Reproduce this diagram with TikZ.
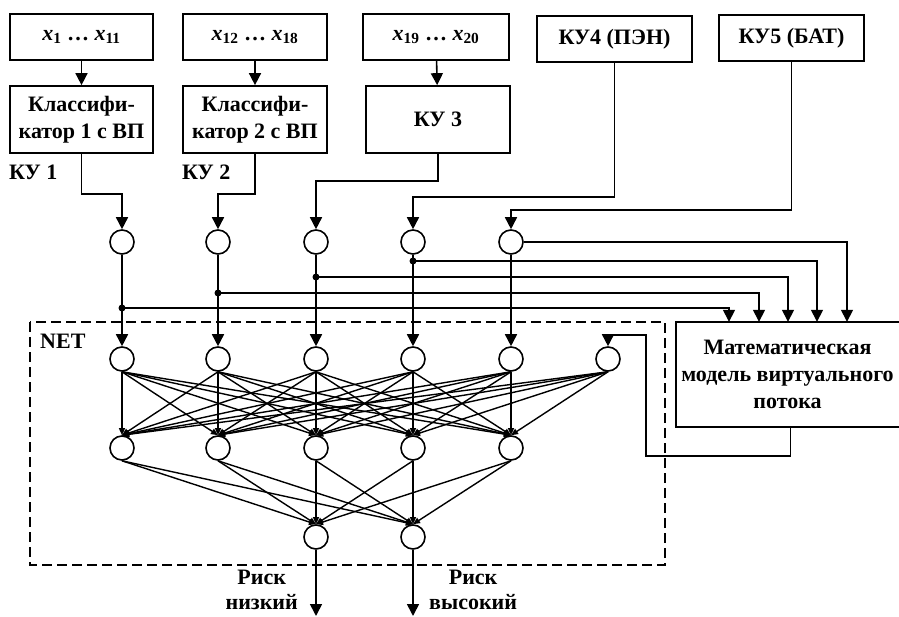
\documentclass[tikz,border=0pt]{standalone}
\usepackage{fontspec}
\setmainfont{Liberation Serif}
\usetikzlibrary{arrows.meta}

\begin{document}
\begin{tikzpicture}[
  x=1pt,
  y=-1pt,
  every node/.style={font=\fontsize{22}{27}\selectfont\bfseries},
  box/.style={draw, line width=1.7pt, align=center, inner sep=0pt,
              minimum height=46pt},
  clsbox/.style={box, minimum width=143pt, minimum height=67pt},
  neuron/.style={circle, draw, line width=1.6pt, inner sep=0pt,
                 minimum size=24pt},
  dot/.style={circle, fill, inner sep=0pt, minimum size=7pt},
  wire/.style={line width=1.6pt},
  feed/.style={wire, -{Triangle[length=12pt,width=12pt]}},
  link/.style={line width=1.4pt, -{Triangle[length=7pt,width=6pt]}},
  netbox/.style={line width=1.6pt, dash pattern=on 10pt off 5pt}
]
  \useasboundingbox (0,0) rectangle (899,617);

  % ---- input groups and control units ----
  \node[box, minimum width=143pt] (src1) at (81.5,37)
    {\textit{x}\textsubscript{1} … \textit{x}\textsubscript{11}};
  \node[box, minimum width=144pt] (src2) at (255,37)
    {\textit{x}\textsubscript{12} … \textit{x}\textsubscript{18}};
  \node[box, minimum width=146pt] (src3) at (436,37)
    {\textit{x}\textsubscript{19} … \textit{x}\textsubscript{20}};
  \node[box, minimum width=155pt] (src4) at (614.5,39) {КУ4 (ПЭН)};
  \node[box, minimum width=145pt] (src5) at (791.5,38) {КУ5 (БАТ)};

  \node[clsbox] (cls1) at (81.5,119.5) {Классифи-\\катор 1 с ВП};
  \node[clsbox, minimum width=144pt] (cls2) at (255,119.5) {Классифи-\\катор 2 с ВП};
  \node[clsbox, minimum width=144pt] (cls3) at (438,119.5) {КУ 3};
  \node[anchor=west, inner sep=0pt] (ku1) at (9,172) {КУ 1};
  \node[anchor=west, inner sep=0pt] (ku2) at (182,172) {КУ 2};

  \draw[feed] (src1) -- (cls1);
  \draw[feed] (src2) -- (cls2);
  \draw[feed] (src3) -- (cls3);

  % ---- gates ----
  \foreach \i/\x in {1/122,2/218,3/316,4/413,5/511}
    \node[neuron] (g\i) at (\x,242) {};

  \draw[feed] (cls1.south) -- ++(0,40) -| (g1.north);
  \draw[feed] (cls2.south) -- ++(0,40) -| (g2.north);
  \draw[feed] (cls3.south) -- ++(0,27) -| (g3.north);
  \draw[feed] (src4.south) -- ++(0,134) -| (g4.north);
  \draw[feed] (src5.south) -- ++(0,148) -| (g5.north);

  % ---- mathematical model ----
  \node[align=center, inner sep=0pt, minimum width=223pt, minimum height=105pt]
    (model) at (787.5,374.5)
    {Математическая\\модель виртуального\\потока};
  \draw[wire] (model.north east) -- (model.north west)
    -- (model.south west) -- (model.south east);

  % ---- branches into the model ----
  \foreach \i/\y/\dx in {1/308/-58.5,2/293/-28.5,3/277/0.5,4/261/29.5}{
    \node[dot] (j\i) at (g\i |- 0,\y) {};
    \draw[feed] (j\i.center) -| ([xshift=\dx pt]model.north);
  }
  \draw[feed] (g5.east) -| ([xshift=59.5pt]model.north);

  % ---- network ----
  \draw[netbox] (30,322) rectangle (665,565);
  \node[anchor=west, inner sep=0pt] (netlbl) at (40,341) {NET};

  \foreach \i/\x in {1/122,2/218,3/316,4/413,5/511,6/608}
    \node[neuron] (u\i) at (\x,359) {};
  \foreach \i/\x in {1/122,2/218,3/316,4/413,5/511}
    \node[neuron] (h\i) at (\x,448) {};
  \node[neuron] (o1) at (316,537) {};
  \node[neuron] (o2) at (413,537) {};

  \foreach \i in {1,...,5}
    \draw[feed] (g\i) -- (u\i);

  \foreach \i in {1,...,6}
    \foreach \j in {1,...,5}
      \draw[link] (u\i.south) -- (h\j.north);
  \foreach \j in {1,...,5}
    \foreach \k in {1,2}
      \draw[link] (h\j.south) -- (o\k.north);

  % ---- feedback from the model ----
  \coordinate (fb1) at (646,456);
  \coordinate (fb2) at (608,335);
  \draw[feed] ([xshift=3pt]model.south) |- (fb1) |- (fb2) -- (u6.north);

  % ---- outputs ----
  \coordinate (end1) at (316,616);
  \coordinate (end2) at (413,616);
  \draw[feed] (o1) -- (end1);
  \draw[feed] (o2) -- (end2);
  \node[align=center, anchor=east, inner sep=0pt,
        font=\fontsize{22}{25}\selectfont\bfseries] (risk1) at (298,590)
    {Риск\\низкий};
  \node[align=center, anchor=west, inner sep=0pt,
        font=\fontsize{22}{25}\selectfont\bfseries] (risk2) at (429,590)
    {Риск\\высокий};
\end{tikzpicture}
\end{document}
